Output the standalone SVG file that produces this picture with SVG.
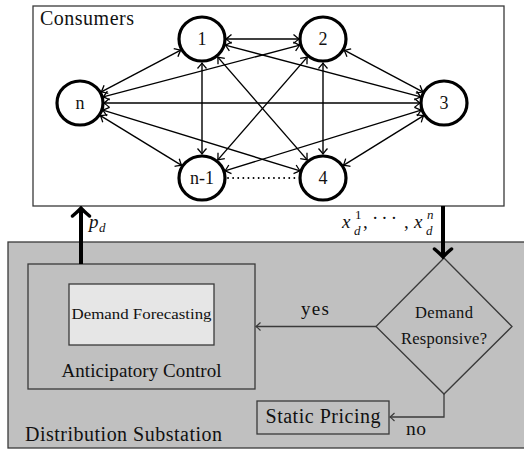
<svg xmlns="http://www.w3.org/2000/svg" width="524" height="449" viewBox="0 0 524 449" font-family="'Liberation Serif', 'DejaVu Serif', 'Noto Serif', serif">
<style>
text{font-family:'Liberation Serif','DejaVu Serif','Noto Serif',serif;fill:#111}
.node ellipse{fill:#fff;stroke:#000;stroke-width:3.2}
.node text{font-size:18px;text-anchor:middle}
.edge{stroke:#000;stroke-width:1.4;fill:none;marker-start:url(#ah);marker-end:url(#ah)}
.box{stroke:#3a3a3a;stroke-width:1.3}
.flow{stroke:#3a3a3a;stroke-width:1.3;fill:none;marker-end:url(#sh)}
.thick{stroke:#000;stroke-width:4;fill:none;marker-end:url(#th)}
.it{font-style:italic}
</style>
<defs>
<marker id="ah" viewBox="-7 -6 8 12" markerWidth="8" markerHeight="12" refX="0" refY="0" orient="auto-start-reverse" markerUnits="userSpaceOnUse">
<path d="M-5.5,-4.5 Q-1.5,-1 0,0 Q-1.5,1 -5.5,4.5" fill="none" stroke="#000" stroke-width="1.3"/>
</marker>
<marker id="sh" viewBox="-7 -6 8 12" markerWidth="8" markerHeight="12" refX="0" refY="0" orient="auto" markerUnits="userSpaceOnUse">
<path d="M-4.5,-4 Q-1.2,-0.8 0,0 Q-1.2,0.8 -4.5,4" fill="none" stroke="#3a3a3a" stroke-width="1.2"/>
</marker>
<marker id="th" viewBox="-12 -12 14 24" markerWidth="14" markerHeight="24" refX="0" refY="0" orient="auto" markerUnits="userSpaceOnUse">
<path d="M-8,-8.5 Q-2.5,-2 0,0 Q-2.5,2 -8,8.5" fill="none" stroke="#000" stroke-width="3.5" stroke-linecap="round"/>
</marker>
</defs>

<rect width="524" height="449" fill="#fff"/>

<g id="consumers">
<rect class="box" x="33" y="6" width="471" height="200" fill="#fff" stroke="#555"/>
<text x="40" y="25" font-size="20" textLength="94">Consumers</text>
</g>

<g id="substation">
<rect class="box" x="8" y="242" width="530" height="206" fill="#c0c0c0"/>
<text x="25" y="441" font-size="20" textLength="197">Distribution Substation</text>
</g>

<g id="edges">
<line class="edge" x1="226" y1="39" x2="299" y2="39"/>
<line class="edge" x1="225.2" y1="45.1" x2="420.8" y2="96.9"/>
<line class="edge" x1="217.8" y1="57.1" x2="307.2" y2="159.9"/>
<line class="edge" x1="202" y1="63" x2="202" y2="154"/>
<line class="edge" x1="180.7" y1="50.1" x2="101.3" y2="91.9"/>
<line class="edge" x1="344.2" y1="50.2" x2="422.8" y2="91.8"/>
<line class="edge" x1="323" y1="63" x2="323" y2="154"/>
<line class="edge" x1="307.2" y1="57.1" x2="217.8" y2="159.9"/>
<line class="edge" x1="299.8" y1="45.1" x2="103.2" y2="96.9"/>
<line class="edge" x1="423.6" y1="115.6" x2="343.4" y2="165.4"/>
<line class="edge" x1="421.1" y1="110.1" x2="224.9" y2="170.9"/>
<line class="edge" x1="420" y1="103" x2="104" y2="103"/>
<line class="edge" x1="300.1" y1="170.9" x2="102.9" y2="110.1"/>
<line class="edge" x1="181.6" y1="165.4" x2="100.4" y2="115.6"/>
<line x1="228" y1="178" x2="298" y2="178" stroke="#000" stroke-width="1.8" stroke-dasharray="0.1 5" stroke-linecap="round"/>
</g>

<g id="n1" class="node"><ellipse cx="202" cy="39" rx="23" ry="22"/><text x="202" y="45">1</text></g>
<g id="n2" class="node"><ellipse cx="323" cy="39" rx="23" ry="22"/><text x="323" y="45">2</text></g>
<g id="n3" class="node"><ellipse cx="444" cy="103" rx="23" ry="22"/><text x="444" y="109">3</text></g>
<g id="n4" class="node"><ellipse cx="323" cy="178" rx="23" ry="22"/><text x="323" y="184">4</text></g>
<g id="nm1" class="node"><ellipse cx="202" cy="178" rx="23" ry="22"/><text x="202" y="184">n-1</text></g>
<g id="nn" class="node"><ellipse cx="80" cy="103" rx="23" ry="22"/><text x="80" y="109">n</text></g>

<g id="anticipatory">
<rect class="box" x="28" y="264" width="227" height="125" fill="#c0c0c0"/>
<text x="141.5" y="377" font-size="19" text-anchor="middle" textLength="160">Anticipatory Control</text>
</g>
<g id="forecasting">
<rect class="box" x="69" y="284" width="145" height="61" fill="#e6e6e6"/>
<text x="141.5" y="319" font-size="15" text-anchor="middle" textLength="140" lengthAdjust="spacingAndGlyphs">Demand Forecasting</text>
</g>
<g id="decision">
<polygon class="box" points="444,258 512,326.5 444,394 376,326.5" fill="#c0c0c0"/>
<text x="444" y="318" font-size="16.5" text-anchor="middle" textLength="58">Demand</text>
<text x="444" y="344" font-size="16.5" text-anchor="middle" textLength="86">Responsive?</text>
</g>
<g id="static">
<rect class="box" x="257" y="401" width="132" height="33" fill="#c0c0c0"/>
<text x="323" y="423" font-size="20" text-anchor="middle" textLength="115">Static Pricing</text>
</g>

<g id="connectors">
<line class="thick" x1="81" y1="264" x2="81" y2="208"/>
<line class="thick" x1="443" y1="206" x2="443" y2="257"/>
<line class="flow" x1="376" y1="326.5" x2="256" y2="326.5"/>
<polyline class="flow" points="444,394 444,417 390,417"/>
</g>

<g id="labels">
<text x="89" y="228" font-size="19" class="it">p</text>
<text x="99" y="232" font-size="13" class="it">d</text>
<text x="342" y="228" font-size="19" class="it">x</text>
<text x="355" y="219" font-size="13">1</text>
<text x="354" y="235" font-size="13" class="it">d</text>
<text x="363" y="228" font-size="19">,</text>
<text x="372" y="224" font-size="19" letter-spacing="3">···</text>
<text x="404" y="228" font-size="19">,</text>
<text x="414" y="228" font-size="19" class="it">x</text>
<text x="427" y="219" font-size="13" class="it">n</text>
<text x="426" y="235" font-size="13" class="it">d</text>
<text x="315" y="315" font-size="19" text-anchor="middle" textLength="28">yes</text>
<text x="416" y="435" font-size="19.5" text-anchor="middle" textLength="20">no</text>
</g>
</svg>
